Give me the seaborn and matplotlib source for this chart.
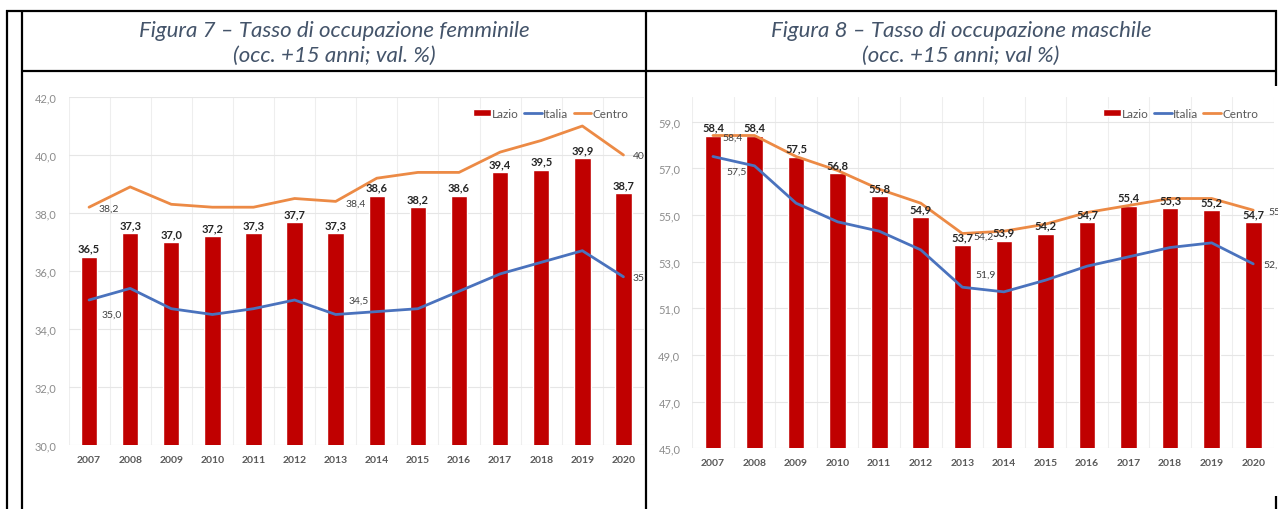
import matplotlib
matplotlib.use('Agg')
import matplotlib.pyplot as plt
import seaborn as sns
from matplotlib.lines import Line2D

# dati (val. %)
anni = list(range(2007, 2021))

lazio_f = [36.5, 37.3, 37.0, 37.2, 37.3, 37.7, 37.3, 38.6, 38.2, 38.6, 39.4, 39.5, 39.9, 38.7]
italia_f = [35.0, 35.4, 34.7, 34.5, 34.7, 35.0, 34.5, 34.6, 34.7, 35.3, 35.9, 36.3, 36.7, 35.8]
centro_f = [38.2, 38.9, 38.3, 38.2, 38.2, 38.5, 38.4, 39.2, 39.4, 39.4, 40.1, 40.5, 41.0, 40.0]

lazio_m = [58.4, 58.4, 57.5, 56.8, 55.8, 54.9, 53.7, 53.9, 54.2, 54.7, 55.4, 55.3, 55.2, 54.7]
italia_m = [57.5, 57.1, 55.5, 54.7, 54.3, 53.5, 51.9, 51.7, 52.2, 52.8, 53.2, 53.6, 53.8, 52.9]
centro_m = [58.4, 58.4, 57.5, 56.9, 56.1, 55.5, 54.2, 54.3, 54.6, 55.1, 55.4, 55.7, 55.7, 55.2]

titoli = [('Figura 7 – Tasso di occupazione femminile', '(occ. +15 anni; val. %)'),
          ('Figura 8 – Tasso di occupazione maschile', '(occ. +15 anni; val %)')]

ROSSO = '#c00000'
BLU = '#4a72bd'
ARANCIO = '#ec8a45'

sns.set_style('white')
plt.rcParams['font.family'] = ['Lato', 'DejaVu Sans']

W, H = 1278, 510
fig = plt.figure(figsize=(W / 100, H / 100), dpi=100)
fig.patch.set_facecolor('white')


def px_axes(x0, y0, x1, y1):
    # rettangolo in pixel (origine in alto a sinistra)
    return fig.add_axes([x0 / W, 1 - y1 / H, (x1 - x0) / W, (y1 - y0) / H])


def virgola(v):
    return f'{v:.1f}'.replace('.', ',')


def grafico(ax, lazio, italia, centro, yticks, ylim, pos_lab, taglia):
    sns.barplot(x=anni, y=lazio, native_scale=True, width=0.4, color=ROSSO,
                saturation=1, errorbar=None, ax=ax, label='Lazio', zorder=2)
    sns.lineplot(x=anni, y=italia, color=BLU, lw=2.0, ax=ax, label='Italia', zorder=3)
    sns.lineplot(x=anni, y=centro, color=ARANCIO, lw=2.0, ax=ax, label='Centro', zorder=3)

    ax.set_xlim(anni[0] - 0.5, anni[-1] + 0.5)
    ax.set_ylim(*ylim)
    ax.set_yticks(yticks)
    ax.set_yticklabels([virgola(t) for t in yticks], color='#8c8c8c', fontsize=8)
    ax.set_xticks(anni)
    ax.set_xticklabels([str(a) for a in anni], color='#595959', fontsize=7.5, fontweight='bold')
    ax.set_xticks([a - 0.5 for a in anni] + [anni[-1] + 0.5], minor=True)
    ax.tick_params(axis='x', which='major', length=0, pad=7)
    ax.tick_params(axis='x', which='minor', length=5, width=0.8, color='#e6e6e6')
    ax.tick_params(axis='y', length=3, width=3, color='#d9d9d9', direction='inout', pad=7)
    ax.grid(axis='y', color='#e6e6e6', lw=0.8)
    ax.grid(axis='x', which='minor', color='#eeeeee', lw=0.8)
    ax.set_axisbelow(True)
    for s in ax.spines.values():
        s.set_visible(False)
    ax.set_xlabel('')
    ax.set_ylabel('')

    # etichette Lazio
    ax.bar_label(ax.containers[0], labels=[virgola(v) for v in lazio], padding=2,
                 fontsize=8, fontweight='bold', color='#262626')

    # etichette delle linee
    for serie, chiave in ((italia, 'italia'), (centro, 'centro')):
        for i, (dx, dy, ha) in pos_lab[chiave].items():
            ax.annotate(virgola(serie[i]), (anni[i], serie[i]), xytext=(dx, dy),
                        textcoords='offset points', ha=ha, va='center', fontsize=7.5,
                        color='#404040', annotation_clip=False, clip_on=taglia)

    h, l = ax.get_legend_handles_labels()
    ordine = [l.index(n) for n in ('Lazio', 'Italia', 'Centro')]
    leg = ax.legend([h[i] for i in ordine], [l[i] for i in ordine], ncol=3, frameon=False,
                    loc='center right', bbox_to_anchor=(0.973, 0.954), borderaxespad=0,
                    borderpad=0, fontsize=8.5, handlelength=1.5, handleheight=0.6,
                    handletextpad=0.1, columnspacing=0.45)
    for t in leg.get_texts():
        t.set_color('#595959')


ax1 = px_axes(68.5, 98, 644, 446)
grafico(ax1, lazio_f, italia_f, centro_f, list(range(30, 43, 2)), (30, 42),
        {'italia': {0: (16.5, -10.5, 'center'), 6: (16.5, 10, 'center'), 13: (6.5, 0, 'left')},
         'centro': {0: (6.5, -1, 'left'), 6: (7, -1, 'left'), 13: (6.5, 0, 'left')}}, True)

ax2 = px_axes(692.2, 98, 1274, 449.2)
grafico(ax2, lazio_m, italia_m, centro_m, list(range(45, 60, 2)), (45, 60.05),
        {'italia': {0: (17, -10.5, 'center'), 6: (16.5, 9.5, 'center'), 13: (7, 0, 'left')},
         'centro': {0: (6.5, -1, 'left'), 6: (8, -2, 'left'), 13: (11, -1, 'left')}}, False)

# intestazioni della tabella
for cx, (r1, r2) in zip((334, 961), titoli):
    fig.text(cx / W, 1 - 31 / H, r1, ha='center', va='center', style='italic',
             color='#44546a', fontsize=16)
    fig.text(cx / W, 1 - 56 / H, r2, ha='center', va='center', style='italic',
             color='#44546a', fontsize=16)


# bordi della tabella
def linea(x0, y0, x1, y1):
    fig.add_artist(Line2D([x0 / W, x1 / W], [1 - y0 / H, 1 - y1 / H], color='black',
                          lw=1.6, solid_capstyle='butt'))


linea(6, 11.5, 1277, 11.5)
linea(7, 11, 7, 510)
linea(22, 11, 22, 510)
linea(22, 71.5, 1277, 71.5)
linea(646, 11, 646, 510)
linea(1276, 11, 1276, 87)
linea(1276, 497, 1276, 510)

fig.savefig('out.png', dpi=100, facecolor='white')
